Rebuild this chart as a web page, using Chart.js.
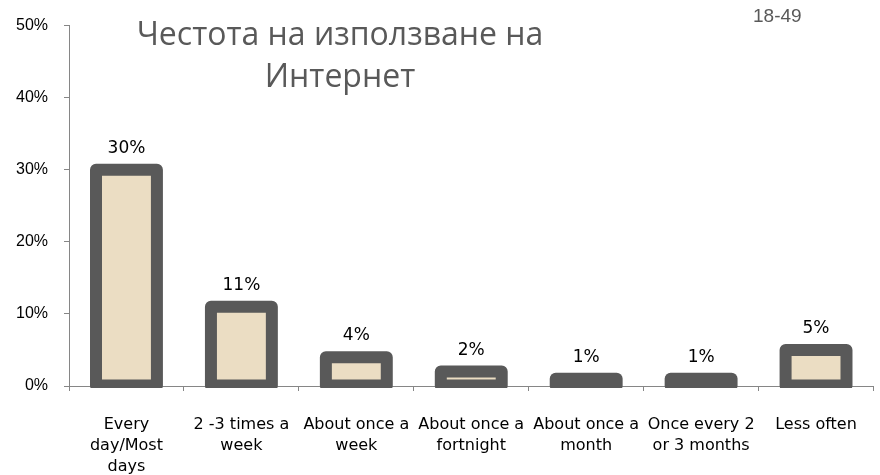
<!DOCTYPE html>
<html>
<head>
<meta charset="utf-8">
<script src="https://cdn.jsdelivr.net/npm/chart.js@4.4.1/dist/chart.umd.min.js"></script>
<style>
    html, body { margin: 0; padding: 0; background: #ffffff; }
    .wrap { position: relative; width: 880px; height: 475px; }
    #chart { position: absolute; left: 0; top: 0; }
    .title {
        position: absolute; left: 90px; top: 12px; width: 500px;
        text-align: center; font-family: "Open Sans", sans-serif;
        font-size: 32px; line-height: 42px; color: #595959;
    }
    .group {
        position: absolute; left: 753px; top: 5px;
        font-family: "Liberation Sans", Arial, sans-serif;
        font-size: 19px; color: #595959;
    }
</style>
</head>
<body>
<div class="wrap">
    <canvas id="chart" width="880" height="475"></canvas>
    <div class="title">Честота на използване на<br>Интернет</div>
    <div class="group">18-49</div>
</div>
<script>
const categories = [
    ['Every', 'day/Most', 'days'],
    ['2 -3 times a', 'week'],
    ['About once a', 'week'],
    ['About once a', 'fortnight'],
    ['About once a', 'month'],
    ['Once every 2', 'or 3 months'],
    ['Less often']
];
const shares = [30, 11, 4, 2, 1, 1, 5];
const yTicks = [0, 10, 20, 30, 40, 50];

const frameColor = '#595959';
const fillColor = '#EBDDC3';
const axisColor = '#868686';

// thick rounded frame around every bar, centred on the bar edge
const barFrame = {
    id: 'barFrame',
    afterDatasetsDraw(chart) {
        const ctx = chart.ctx;
        const area = chart.chartArea;
        const meta = chart.getDatasetMeta(0);
        ctx.save();
        ctx.beginPath();
        ctx.rect(area.left, 0, area.right - area.left, area.bottom + 2);
        ctx.clip();
        ctx.lineWidth = 12;
        ctx.lineJoin = 'round';
        ctx.strokeStyle = frameColor;
        meta.data.forEach(bar => {
            const p = bar.getProps(['x', 'y', 'base', 'width'], true);
            ctx.strokeRect(p.x - p.width / 2, p.y, p.width, p.base - p.y);
        });
        ctx.restore();
    }
};

// value labels above the bars
const valueLabels = {
    id: 'valueLabels',
    afterDatasetsDraw(chart) {
        const ctx = chart.ctx;
        const meta = chart.getDatasetMeta(0);
        ctx.save();
        ctx.font = '17px "DejaVu Sans"';
        ctx.fillStyle = '#000000';
        ctx.textAlign = 'center';
        ctx.textBaseline = 'alphabetic';
        meta.data.forEach((bar, i) => {
            const p = bar.getProps(['x', 'y'], true);
            ctx.fillText(shares[i] + '%', p.x, p.y - 17);
        });
        ctx.restore();
    }
};

const ctx = document.getElementById('chart');
new Chart(ctx, {
    type: 'bar',
    data: {
        labels: categories,
        datasets: [{
            data: shares,
            backgroundColor: fillColor,
            borderWidth: 0,
            barPercentage: 0.53,
            categoryPercentage: 1
        }]
    },
    options: {
        responsive: false,
        animation: false,
        layout: { padding: { top: 21, right: 2, left: 0, bottom: 0 } },
        plugins: {
            legend: { display: false },
            tooltip: { enabled: false }
        },
        scales: {
            x: {
                grid: { drawOnChartArea: false, tickLength: 5, color: axisColor, offset: true },
                border: { color: axisColor },
                ticks: {
                    color: '#000000',
                    font: { family: 'DejaVu Sans', size: 16, lineHeight: 1.33 },
                    padding: 23,
                    maxRotation: 0,
                    autoSkip: false
                },
                afterFit(scale) { scale.height = 475 - 386; }
            },
            y: {
                min: yTicks[0],
                max: yTicks[yTicks.length - 1],
                grid: { drawOnChartArea: false, tickLength: 5, color: axisColor },
                border: { color: axisColor },
                ticks: {
                    stepSize: 10,
                    color: '#000000',
                    font: { family: 'Liberation Sans', size: 16 },
                    padding: 16,
                    callback: v => v + '%'
                },
                afterFit(scale) { scale.width = 69; }
            }
        }
    },
    plugins: [barFrame, valueLabels]
});
</script>
</body>
</html>
